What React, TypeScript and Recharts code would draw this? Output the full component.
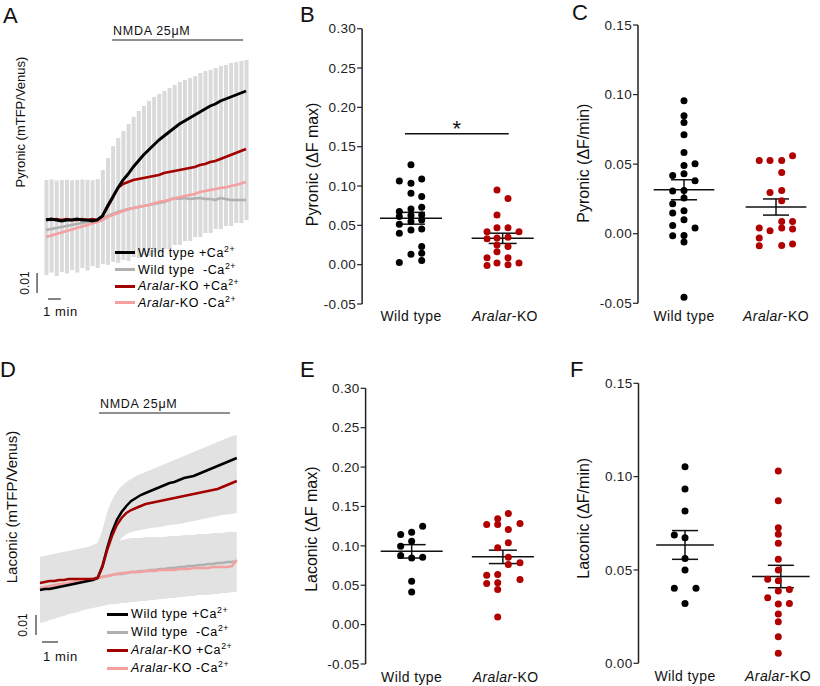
import React from 'react';
import {
  ComposedChart, ScatterChart, Scatter, Line, Bar, Area, XAxis, YAxis,
  ReferenceLine, ErrorBar, Legend,
} from 'recharts';

const FONT = '"Liberation Sans", Arial, Helvetica, sans-serif';
const KO_RED = '#b00000';
const C_WT_CA = '#000000';
const C_WT_NOCA = '#b0b0b0';
const C_KO_CA = '#a30000';
const C_KO_NOCA = '#f4a0a0';

// ---------------- Panel A (Pyronic traces) ----------------
const timeA = [0, 0.4, 0.8, 1.2, 1.6, 2, 2.4, 2.8, 3.2, 3.6, 4, 4.4, 4.8, 5.2, 5.6, 6, 6.4, 6.8, 7.2, 7.6, 8, 8.4, 8.8, 9.2, 9.6, 10, 10.4, 10.8, 11.2, 11.6, 12, 12.4, 12.8, 13.2, 13.6, 14, 14.4, 14.8, 15.2, 15.6];
const aWtCa = [0, 0.0005, 0, -0.0005, 0, 0, 0.0005, 0, 0, -0.0005, 0, 0.002, 0.007, 0.0115, 0.016, 0.020, 0.023, 0.0265, 0.0295, 0.0325, 0.035, 0.0375, 0.040, 0.042, 0.044, 0.046, 0.048, 0.0495, 0.051, 0.0525, 0.054, 0.0555, 0.057, 0.058, 0.0595, 0.0605, 0.0615, 0.0625, 0.0635, 0.0645];
const aKoCa = [0.0005, 0, 0.0005, 0, 0.0005, 0, 0, 0.0005, 0, 0.0005, 0, 0.002, 0.0065, 0.011, 0.016, 0.018, 0.019, 0.020, 0.0205, 0.021, 0.0215, 0.022, 0.0225, 0.0235, 0.024, 0.0245, 0.025, 0.0255, 0.026, 0.0265, 0.0275, 0.028, 0.029, 0.0295, 0.0305, 0.0315, 0.0325, 0.0335, 0.0345, 0.0355];
const aWtNoCa = [-0.005, -0.0045, -0.004, -0.0035, -0.003, -0.0025, -0.002, -0.0015, -0.001, -0.0005, 0, 0.001, 0.002, 0.003, 0.004, 0.0048, 0.0055, 0.006, 0.0065, 0.007, 0.0075, 0.008, 0.0085, 0.009, 0.010, 0.011, 0.0105, 0.011, 0.0105, 0.0108, 0.011, 0.0105, 0.0105, 0.010, 0.011, 0.0105, 0.010, 0.010, 0.010, 0.010];
const aKoNoCa = [-0.0085, -0.0078, -0.007, -0.0063, -0.0055, -0.0048, -0.004, -0.0033, -0.0025, -0.0018, -0.001, 0, 0.0015, 0.0025, 0.0035, 0.0045, 0.0053, 0.006, 0.0065, 0.007, 0.0075, 0.0083, 0.009, 0.0095, 0.010, 0.0108, 0.0113, 0.012, 0.0125, 0.013, 0.014, 0.0145, 0.015, 0.0155, 0.016, 0.0163, 0.017, 0.0175, 0.0183, 0.019];
const aSemHigh = [0.020, 0.0202, 0.0198, 0.020, 0.0201, 0.0199, 0.020, 0.0202, 0.020, 0.0199, 0.0205, 0.025, 0.031, 0.037, 0.041, 0.0445, 0.048, 0.0515, 0.0545, 0.057, 0.0595, 0.0615, 0.063, 0.0645, 0.066, 0.0675, 0.069, 0.070, 0.071, 0.072, 0.0735, 0.0745, 0.075, 0.076, 0.077, 0.0775, 0.0785, 0.079, 0.0795, 0.080];
const aSemLow = [-0.0275, -0.0262, -0.028, -0.026, -0.0268, -0.025, -0.0262, -0.024, -0.0252, -0.023, -0.024, -0.022, -0.0225, -0.021, -0.0215, -0.020, -0.0205, -0.0185, -0.019, -0.0175, -0.018, -0.016, -0.0165, -0.0145, -0.0145, -0.0125, -0.0125, -0.0105, -0.0105, -0.0085, -0.0085, -0.0065, -0.0065, -0.0045, -0.0045, -0.003, -0.003, -0.0015, -0.0015, 0];

// ---------------- Panel D (Laconic traces) ----------------
const timeD = [0, 0.3, 0.6, 0.9, 1.2, 1.5, 1.8, 2.1, 2.4, 2.7, 3, 3.3, 3.6, 3.9, 4.2, 4.5, 4.8, 5.1, 5.4, 5.7, 6, 6.3, 6.6, 6.9, 7.2, 7.5, 7.8, 8.1, 8.4, 8.7, 9, 9.3, 9.6, 9.9, 10.2, 10.5, 10.8, 11.1, 11.4, 11.7, 12, 12.3];
const dWtCa = [0, 0.0005, 0.0005, 0.001, 0.0015, 0.002, 0.0025, 0.003, 0.0035, 0.004, 0.0045, 0.005, 0.006, 0.012, 0.021, 0.029, 0.035, 0.039, 0.042, 0.0445, 0.046, 0.0475, 0.0485, 0.0495, 0.0505, 0.0515, 0.0525, 0.0535, 0.054, 0.055, 0.056, 0.0565, 0.057, 0.058, 0.059, 0.060, 0.061, 0.062, 0.063, 0.064, 0.065, 0.066];
const dKoCa = [0.0035, 0.004, 0.0045, 0.0045, 0.005, 0.005, 0.0055, 0.0055, 0.0055, 0.0055, 0.0055, 0.0055, 0.006, 0.0115, 0.020, 0.027, 0.0325, 0.036, 0.0385, 0.040, 0.041, 0.042, 0.043, 0.0435, 0.044, 0.0445, 0.045, 0.0455, 0.046, 0.0465, 0.047, 0.0475, 0.048, 0.0485, 0.049, 0.0495, 0.050, 0.0505, 0.0515, 0.0525, 0.0535, 0.0545];
const dWtNoCa = [0, 0.0005, 0.001, 0.0015, 0.002, 0.0025, 0.003, 0.0035, 0.004, 0.0045, 0.005, 0.0055, 0.0065, 0.0065, 0.007, 0.0075, 0.008, 0.008, 0.0085, 0.009, 0.009, 0.0095, 0.0095, 0.010, 0.010, 0.0105, 0.0105, 0.011, 0.011, 0.0115, 0.0115, 0.012, 0.012, 0.0125, 0.0125, 0.013, 0.013, 0.0135, 0.0135, 0.014, 0.014, 0.0145];
const dKoNoCa = [0.001, 0.0015, 0.002, 0.0025, 0.003, 0.003, 0.0035, 0.004, 0.0045, 0.005, 0.005, 0.0055, 0.006, 0.0065, 0.007, 0.0075, 0.008, 0.0085, 0.0085, 0.009, 0.009, 0.009, 0.0095, 0.0095, 0.0095, 0.010, 0.010, 0.010, 0.010, 0.0105, 0.0105, 0.0105, 0.011, 0.011, 0.011, 0.011, 0.0115, 0.0115, 0.0115, 0.0115, 0.012, 0.015];
const dCaHigh = [0.0165, 0.017, 0.0175, 0.018, 0.0185, 0.019, 0.0195, 0.020, 0.0205, 0.021, 0.0215, 0.0225, 0.0235, 0.030, 0.039, 0.045, 0.049, 0.052, 0.054, 0.0555, 0.057, 0.058, 0.059, 0.060, 0.061, 0.062, 0.063, 0.064, 0.065, 0.066, 0.067, 0.068, 0.069, 0.070, 0.071, 0.072, 0.073, 0.074, 0.075, 0.076, 0.077, 0.0775];
const dCaLow = [0, 0.0005, 0.0005, 0.001, 0.0015, 0.002, 0.0025, 0.003, 0.0035, 0.004, 0.0045, 0.005, 0.006, 0.006, 0.010, 0.0175, 0.0225, 0.026, 0.028, 0.029, 0.0295, 0.030, 0.0305, 0.031, 0.0313, 0.0315, 0.032, 0.0325, 0.0328, 0.033, 0.0335, 0.034, 0.0345, 0.035, 0.0355, 0.036, 0.0365, 0.037, 0.0375, 0.0378, 0.038, 0.0385];
const dNoCaHigh = [0.0165, 0.017, 0.0175, 0.018, 0.0185, 0.019, 0.0195, 0.020, 0.0205, 0.021, 0.0215, 0.022, 0.0225, 0.023, 0.0235, 0.024, 0.0245, 0.025, 0.0255, 0.026, 0.026, 0.026, 0.0265, 0.0265, 0.0265, 0.0265, 0.0265, 0.027, 0.027, 0.027, 0.0275, 0.0275, 0.0275, 0.028, 0.028, 0.028, 0.0285, 0.0285, 0.0285, 0.029, 0.029, 0.029];
const dNoCaLow = [-0.0165, -0.016, -0.015, -0.0145, -0.0135, -0.013, -0.012, -0.0115, -0.011, -0.010, -0.0095, -0.009, -0.0085, -0.008, -0.0075, -0.007, -0.007, -0.0065, -0.0065, -0.006, -0.006, -0.0055, -0.0055, -0.005, -0.005, -0.0045, -0.0045, -0.004, -0.004, -0.0035, -0.0035, -0.003, -0.003, -0.0025, -0.0025, -0.0025, -0.002, -0.002, -0.0015, -0.0015, -0.001, -0.001];

// annotation values (data units)
const nmdaA = { start: 5.15, end: 15.37, level: 0.09 };
const nmdaD = { start: 3.69, end: 11.875, level: 0.0885 };
const scaleA = { x: -0.7, y0: -0.0265, yLen: 0.01, barY: -0.0395, x0: 0.15, xLen: 1 };
const scaleD = { x: -0.25, y0: -0.0125, yLen: 0.01, barY: -0.026, x0: 0.125, xLen: 1 };

// ---------------- Scatter panels ----------------
const groupNames = ['Wild type', 'Aralar-KO'];

const bWT = [
  { x: 1.0, y: 0.127 }, { x: 0.876, y: 0.1065 }, { x: 1.0, y: 0.1035 }, { x: 1.114, y: 0.109 },
  { x: 1.0, y: 0.0908 }, { x: 1.114, y: 0.0866 }, { x: 0.876, y: 0.0675 }, { x: 1.0, y: 0.0709 },
  { x: 1.114, y: 0.073 }, { x: 0.876, y: 0.0611 }, { x: 1.0, y: 0.0624 }, { x: 1.114, y: 0.0633 },
  { x: 0.876, y: 0.0515 }, { x: 1.0, y: 0.0548 }, { x: 1.114, y: 0.0569 }, { x: 0.876, y: 0.040 },
  { x: 1.0, y: 0.0442 }, { x: 1.114, y: 0.0455 }, { x: 1.114, y: 0.023 }, { x: 1.114, y: 0.0146 },
  { x: 1.0, y: 0.0133 }, { x: 1.114, y: 0.0052 }, { x: 0.876, y: 0.0027 },
];
const bKO = [
  { x: 1.915, y: 0.095 }, { x: 2.032, y: 0.084 }, { x: 1.915, y: 0.063 }, { x: 1.809, y: 0.042 },
  { x: 1.915, y: 0.047 }, { x: 2.032, y: 0.047 }, { x: 2.149, y: 0.042 }, { x: 1.809, y: 0.033 },
  { x: 1.915, y: 0.034 }, { x: 2.032, y: 0.035 }, { x: 1.915, y: 0.025 }, { x: 2.032, y: 0.023 },
  { x: 1.915, y: 0.0165 }, { x: 1.809, y: 0.0087 }, { x: 2.032, y: 0.0087 }, { x: 1.809, y: -0.001 },
  { x: 1.915, y: 0.002 }, { x: 2.032, y: 0.0 }, { x: 2.149, y: 0.002 },
];
const bMeans = [0.059, 0.0335];
const bSems = [0.0075, 0.0065];

const cWT = [
  { x: 1.0, y: 0.0955 }, { x: 1.0, y: 0.0848 }, { x: 1.0, y: 0.080 }, { x: 1.0, y: 0.0711 },
  { x: 1.0, y: 0.0584 }, { x: 1.12, y: 0.0503 }, { x: 1.0, y: 0.049 }, { x: 0.877, y: 0.0419 },
  { x: 1.0, y: 0.0431 }, { x: 1.12, y: 0.038 }, { x: 0.877, y: 0.0307 }, { x: 1.0, y: 0.0311 },
  { x: 1.0, y: 0.0256 }, { x: 0.877, y: 0.0216 }, { x: 0.877, y: 0.0149 }, { x: 1.0, y: 0.0165 },
  { x: 1.0, y: 0.0101 }, { x: 0.877, y: 0.006 }, { x: 1.12, y: 0.0041 }, { x: 0.877, y: -0.0014 },
  { x: 1.0, y: -0.0012 }, { x: 1.0, y: -0.006 }, { x: 1.0, y: -0.0457 },
];
const cKO = [
  { x: 1.818, y: 0.0527 }, { x: 1.935, y: 0.0527 }, { x: 2.062, y: 0.0527 }, { x: 2.18, y: 0.056 },
  { x: 2.062, y: 0.044 }, { x: 1.935, y: 0.0297 }, { x: 2.062, y: 0.0311 }, { x: 2.062, y: 0.0237 },
  { x: 1.818, y: 0.0041 }, { x: 1.935, y: 0.0022 }, { x: 2.062, y: 0.0041 }, { x: 2.18, y: 0.0088 },
  { x: 2.18, y: 0.0034 }, { x: 2.062, y: 0.0088 }, { x: 1.818, y: -0.0031 }, { x: 1.818, y: -0.0086 },
  { x: 2.062, y: -0.0084 }, { x: 2.18, y: -0.0074 },
];
const cMeans = [0.0316, 0.0192];
const cSems = [0.0072, 0.0058];

const eWT = [
  { x: 1.117, y: 0.1249 }, { x: 0.883, y: 0.1144 }, { x: 1.0, y: 0.1173 }, { x: 1.0, y: 0.1059 },
  { x: 0.883, y: 0.0995 }, { x: 0.883, y: 0.0877 }, { x: 1.0, y: 0.0847 }, { x: 1.117, y: 0.0856 },
  { x: 1.0, y: 0.055 }, { x: 1.0, y: 0.0415 },
];
const eKO = [
  { x: 2.028, y: 0.141 }, { x: 1.915, y: 0.1343 }, { x: 1.798, y: 0.127 }, { x: 1.915, y: 0.127 },
  { x: 2.152, y: 0.1283 }, { x: 2.028, y: 0.1207 }, { x: 2.028, y: 0.1038 }, { x: 1.915, y: 0.0975 },
  { x: 2.028, y: 0.0856 }, { x: 2.152, y: 0.0784 }, { x: 2.028, y: 0.0762 }, { x: 1.798, y: 0.0626 },
  { x: 1.915, y: 0.0635 }, { x: 1.798, y: 0.0521 }, { x: 1.915, y: 0.053 }, { x: 2.152, y: 0.0572 },
  { x: 1.915, y: 0.0445 }, { x: 1.915, y: 0.0098 },
];
const eMeans = [0.093, 0.086];
const eSems = [0.0085, 0.0085];

const fWT = [
  { x: 1.0, y: 0.1053 }, { x: 1.0, y: 0.0934 }, { x: 1.0, y: 0.0816 }, { x: 0.885, y: 0.0687 },
  { x: 1.0, y: 0.0673 }, { x: 1.0, y: 0.0562 }, { x: 1.0, y: 0.050 }, { x: 0.885, y: 0.0402 },
  { x: 1.118, y: 0.0402 }, { x: 1.0, y: 0.0321 },
];
const fKO = [
  { x: 2.003, y: 0.103 }, { x: 2.003, y: 0.0871 }, { x: 2.003, y: 0.0726 }, { x: 2.003, y: 0.0691 },
  { x: 2.003, y: 0.0643 }, { x: 2.003, y: 0.0557 }, { x: 2.003, y: 0.050 }, { x: 1.889, y: 0.045 },
  { x: 2.003, y: 0.0442 }, { x: 2.122, y: 0.0396 }, { x: 2.003, y: 0.0387 }, { x: 1.889, y: 0.0351 },
  { x: 2.003, y: 0.0318 }, { x: 2.122, y: 0.0321 }, { x: 2.003, y: 0.0264 }, { x: 2.003, y: 0.0223 },
  { x: 2.003, y: 0.0142 }, { x: 2.003, y: 0.0054 },
];
const fMeans = [0.0634, 0.0465];
const fSems = [0.0077, 0.006];

const ticksMax = [-0.05, 0, 0.05, 0.1, 0.15, 0.2, 0.25, 0.3];
const ticksRateC = [-0.05, 0, 0.05, 0.1, 0.15];
const ticksRateF = [0, 0.05, 0.1, 0.15];

const sig = { x0: 0.936, x1: 2.04, y: 0.1665, text: '*' };

const legendItems = [
  { key: 'wtCa', genotype: 'Wild type', ion: '\u00a0+Ca', color: C_WT_CA },
  { key: 'wtNoCa', genotype: 'Wild type', ion: '\u00a0\u00a0-Ca', color: C_WT_NOCA },
  { key: 'koCa', genotype: 'Aralar-KO', ion: '\u00a0+Ca', color: C_KO_CA },
  { key: 'koNoCa', genotype: 'Aralar-KO', ion: '\u00a0-Ca', color: C_KO_NOCA },
];

const rowsA = timeA.map((t, i) => ({
  t, wtCa: aWtCa[i], koCa: aKoCa[i], wtNoCa: aWtNoCa[i], koNoCa: aKoNoCa[i], sem: [aSemLow[i], aSemHigh[i]],
}));
const rowsD = timeD.map((t, i) => ({
  t, wtCa: dWtCa[i], koCa: dKoCa[i], wtNoCa: dWtNoCa[i], koNoCa: dKoNoCa[i],
  bandCa: [dCaLow[i], dCaHigh[i]], bandNoCa: [dNoCaLow[i], dNoCaHigh[i]],
}));

// ---------------- helpers ----------------
const GenotypeText = ({ name }: { name: string }) => {
  if (name.indexOf('-') > 0) {
    const [a, b] = name.split('-');
    return <><i>{a}</i>-{b}</>;
  }
  return <>{name}</>;
};

const makeLegend = (rowH: number, lineW: number, fontSize: number) => () => (
  <div style={{ fontFamily: FONT, fontSize, whiteSpace: 'nowrap', letterSpacing: 0.6, color: '#000', width: 160 }}>
    {legendItems.map((it) => (
      <div key={it.key} style={{ height: rowH, display: 'flex', alignItems: 'center' }}>
        <span style={{ display: 'inline-block', width: lineW, height: 3, background: it.color, marginRight: 3 }} />
        <span>
          <GenotypeText name={it.genotype} />{it.ion}
          <sup style={{ fontSize: fontSize * 0.7, lineHeight: 0 }}>2+</sup>
        </span>
      </div>
    ))}
  </div>
);

const YTick = (props: any) => {
  const { x, y, payload } = props;
  return (
    <text x={x} y={y} dy="0.35em" textAnchor="end" fontSize={13.5} letterSpacing={0.3} fill="#222" fontFamily={FONT}>
      {Number(payload.value).toFixed(2)}
    </text>
  );
};

const XTick = (props: any) => {
  const { x, y, payload } = props;
  const name = groupNames[Math.round(payload.value) - 1] || '';
  let content: any = name;
  if (name.indexOf('-') > 0) {
    const [a, b] = name.split('-');
    content = <><tspan fontStyle="italic">{a}</tspan><tspan>-{b}</tspan></>;
  }
  return (
    <text x={x} y={y} dy="0.71em" textAnchor="middle" fontSize={14} letterSpacing={0.4} fill="#111" fontFamily={FONT}>
      {content}
    </text>
  );
};

const makeYLabel = (text: string, dx: number, dy: number) => (props: any) => {
  const vb = props.viewBox || { x: 0, y: 0, width: 0, height: 0 };
  const cx = vb.x + dx;
  const cy = vb.y + vb.height / 2 + dy;
  return (
    <text transform={`translate(${cx},${cy}) rotate(-90)`} textAnchor="middle" dominantBaseline="central"
      fontSize={16} fill="#111" fontFamily={FONT}>
      {text}
    </text>
  );
};

const dotShape = (color: string) => (props: any) => (
  <circle cx={props.cx} cy={props.cy} r={3.5} fill={color} />
);
const emptyShape = () => <g />;

type PanelProps = {
  left: number; top: number; width: number; height: number;
  margin: any; xDomain: number[]; yDomain: number[]; yTicks: number[];
  yLabel: string; labelDx: number; labelDy: number; yAxisWidth: number;
  xTickMargin: number; xAxisHeight: number;
  wt: any[]; ko: any[]; means: number[]; sems: number[];
  centers: number[]; halfWidth: number; capWidth: number;
  children?: any;
};

function ScatterPanel(p: PanelProps) {
  const stats = p.means.map((m, i) => ({ x: p.centers[i], y: m, e: p.sems[i] }));
  return (
    <div style={{ position: 'absolute', left: p.left, top: p.top }}>
      <ScatterChart width={p.width} height={p.height} margin={p.margin}>
        <XAxis type="number" dataKey="x" domain={p.xDomain} ticks={[1, 2]} interval={0} allowDataOverflow
          axisLine={false} tickLine={false} tickSize={0} tickMargin={p.xTickMargin} height={p.xAxisHeight} tick={<XTick />} />
        <YAxis type="number" dataKey="y" domain={p.yDomain} ticks={p.yTicks} interval={0} allowDataOverflow
          width={p.yAxisWidth} axisLine={{ stroke: '#222', strokeWidth: 1.5 }} tickLine={{ stroke: '#222', strokeWidth: 1.2 }}
          tickSize={5} tickMargin={1} tick={<YTick />} label={makeYLabel(p.yLabel, p.labelDx, p.labelDy)} />
        <Scatter data={p.wt} fill="#000" shape={dotShape('#000')} isAnimationActive={false} />
        <Scatter data={p.ko} fill={KO_RED} shape={dotShape(KO_RED)} isAnimationActive={false} />
        {stats.map((s, i) => (
          <ReferenceLine key={'mean' + i} segment={[{ x: s.x - p.halfWidth, y: s.y }, { x: s.x + p.halfWidth, y: s.y }]}
            stroke="#111" strokeWidth={1.5} ifOverflow="visible" />
        ))}
        <Scatter data={stats} shape={emptyShape} isAnimationActive={false}>
          <ErrorBar dataKey="e" direction="y" width={p.capWidth} stroke="#111" strokeWidth={1.5} />
        </Scatter>
        {p.children}
      </ScatterChart>
    </div>
  );
}

const nmdaLabel = (props: any) => {
  const vb = props.viewBox || { x: 0, y: 0 };
  return (
    <text x={vb.x + 1} y={vb.y - 5} fontSize={12.5} letterSpacing={0.7} fill="#111" fontFamily={FONT}>NMDA 25μM</text>
  );
};
const makeVScaleLabel = (dx: number) => (props: any) => {
  const vb = props.viewBox || { x: 0, y: 0, height: 0 };
  return (
    <text transform={`translate(${vb.x + dx},${vb.y + (vb.height || 0) / 2}) rotate(-90)`} textAnchor="middle"
      dominantBaseline="central" fontSize={12} fill="#111" fontFamily={FONT}>0.01</text>
  );
};
const makeHScaleLabel = (dx: number, dy: number) => (props: any) => {
  const vb = props.viewBox || { x: 0, y: 0 };
  return (
    <text x={vb.x + dx} y={vb.y + dy} fontSize={13} letterSpacing={0.6} fill="#111" fontFamily={FONT}>1 min</text>
  );
};
const sigLabel = (props: any) => {
  const vb = props.viewBox || { x: 0, y: 0, width: 0 };
  return (
    <text x={vb.x + (vb.width || 0) / 2} y={vb.y + 2} textAnchor="middle" fontSize={22} fill="#111" fontFamily={FONT}>{sig.text}</text>
  );
};

export default function App() {
  return (
    <div style={{ position: 'absolute', left: 0, top: 0, width: 820, height: 686, background: '#fff', fontFamily: FONT, overflow: 'hidden' }}>
      {/* Panel A */}
      <div style={{ position: 'absolute', left: 0, top: 0 }}>
        <ComposedChart width={260} height={330} data={rowsA} margin={{ top: 35, right: 8.8, bottom: 10, left: 30 }}>
          <XAxis type="number" dataKey="t" domain={[-1.25, 16]} allowDataOverflow hide />
          <YAxis type="number" domain={[-0.05, 0.0925]} allowDataOverflow hide />
          <Bar dataKey="sem" fill="#dadada" barSize={4} isAnimationActive={false} />
          <Line dataKey="wtNoCa" stroke={C_WT_NOCA} strokeWidth={2.6} dot={false} isAnimationActive={false} />
          <Line dataKey="koNoCa" stroke={C_KO_NOCA} strokeWidth={2.6} dot={false} isAnimationActive={false} />
          <Line dataKey="koCa" stroke={C_KO_CA} strokeWidth={2.6} dot={false} isAnimationActive={false} />
          <Line dataKey="wtCa" stroke={C_WT_CA} strokeWidth={2.9} dot={false} isAnimationActive={false} />
          <ReferenceLine segment={[{ x: nmdaA.start, y: nmdaA.level }, { x: nmdaA.end, y: nmdaA.level }]} stroke="#222" strokeWidth={1.2} ifOverflow="visible" label={nmdaLabel} />
          <ReferenceLine segment={[{ x: scaleA.x, y: scaleA.y0 }, { x: scaleA.x, y: scaleA.y0 - scaleA.yLen }]} stroke="#333" strokeWidth={1.2} ifOverflow="visible" label={makeVScaleLabel(-12)} />
          <ReferenceLine segment={[{ x: scaleA.x0, y: scaleA.barY }, { x: scaleA.x0 + scaleA.xLen, y: scaleA.barY }]} stroke="#333" strokeWidth={1.2} ifOverflow="visible" label={makeHScaleLabel(-5, 17)} />
          <Legend content={makeLegend(16.7, 20, 12.5)} wrapperStyle={{ position: 'absolute', left: 115, top: 244.5, width: 0, height: 0, overflow: 'visible' }} />
        </ComposedChart>
      </div>

      {/* Panel D */}
      <div style={{ position: 'absolute', left: 0, top: 330 }}>
        <ComposedChart width={260} height={356} data={rowsD} margin={{ top: 70, right: 10, bottom: 16, left: 30 }}>
          <XAxis type="number" dataKey="t" domain={[-0.625, 13.125]} allowDataOverflow hide />
          <YAxis type="number" domain={[-0.04, 0.095]} allowDataOverflow hide />
          <Area dataKey="bandNoCa" type="linear" fill="#e2e2e2" fillOpacity={1} stroke="none" isAnimationActive={false} />
          <Area dataKey="bandCa" type="linear" fill="#e2e2e2" fillOpacity={1} stroke="none" isAnimationActive={false} />
          <Line dataKey="wtNoCa" stroke={C_WT_NOCA} strokeWidth={2.5} dot={false} isAnimationActive={false} />
          <Line dataKey="koNoCa" stroke={C_KO_NOCA} strokeWidth={2.5} dot={false} isAnimationActive={false} />
          <Line dataKey="wtCa" stroke={C_WT_CA} strokeWidth={2.5} dot={false} isAnimationActive={false} />
          <Line dataKey="koCa" stroke={C_KO_CA} strokeWidth={2.5} dot={false} isAnimationActive={false} />
          <ReferenceLine segment={[{ x: nmdaD.start, y: nmdaD.level }, { x: nmdaD.end, y: nmdaD.level }]} stroke="#222" strokeWidth={1.2} ifOverflow="visible" label={nmdaLabel} />
          <ReferenceLine segment={[{ x: scaleD.x, y: scaleD.y0 }, { x: scaleD.x, y: scaleD.y0 - scaleD.yLen }]} stroke="#333" strokeWidth={1.2} ifOverflow="visible" label={makeVScaleLabel(-13)} />
          <ReferenceLine segment={[{ x: scaleD.x0, y: scaleD.barY }, { x: scaleD.x0 + scaleD.xLen, y: scaleD.barY }]} stroke="#333" strokeWidth={1.2} ifOverflow="visible" label={makeHScaleLabel(1, 19)} />
          <Legend content={makeLegend(18, 21, 12.5)} wrapperStyle={{ position: 'absolute', left: 107, top: 275, width: 0, height: 0, overflow: 'visible' }} />
        </ComposedChart>
      </div>

      {/* Panel B */}
      <ScatterPanel left={260} top={0} width={290} height={335}
        margin={{ top: 28.7, right: 7.4, bottom: 6, left: 42.1 }}
        xDomain={[0.48, 2.4]} yDomain={[-0.05, 0.3]} yTicks={ticksMax}
        yLabel="Pyronic (ΔF max)" labelDx={10} labelDy={-2} yAxisWidth={60}
        xTickMargin={7} xAxisHeight={25}
        wt={bWT} ko={bKO} means={bMeans} sems={bSems} centers={[1, 1.975]} halfWidth={0.33} capWidth={14}>
        <ReferenceLine segment={[{ x: sig.x0, y: sig.y }, { x: sig.x1, y: sig.y }]} stroke="#111" strokeWidth={1.5} ifOverflow="visible" label={sigLabel} />
      </ScatterPanel>

      {/* Panel C */}
      <ScatterPanel left={540} top={0} width={280} height={335}
        margin={{ top: 25, right: 2.6, bottom: 6.7, left: 35 }}
        xDomain={[0.5, 2.45]} yDomain={[-0.05, 0.15]} yTicks={ticksRateC}
        yLabel="Pyronic (ΔF/min)" labelDx={8} labelDy={-1} yAxisWidth={63}
        xTickMargin={8} xAxisHeight={25}
        wt={cWT} ko={cKO} means={cMeans} sems={cSems} centers={[1, 2.0]} halfWidth={0.33} capWidth={13} />

      {/* Panel E */}
      <ScatterPanel left={260} top={330} width={290} height={356}
        margin={{ top: 58.3, right: 6.7, bottom: 2, left: 45.6 }}
        xDomain={[0.51, 2.4]} yDomain={[-0.05, 0.3]} yTicks={ticksMax}
        yLabel="Laconic (ΔF max)" labelDx={6} labelDy={3} yAxisWidth={60}
        xTickMargin={8} xAxisHeight={20}
        wt={eWT} ko={eKO} means={eMeans} sems={eSems} centers={[1, 1.97]} halfWidth={0.33} capWidth={14} />

      {/* Panel F */}
      <ScatterPanel left={540} top={330} width={280} height={356}
        margin={{ top: 53.3, right: 2.9, bottom: 2.7, left: 35.5 }}
        xDomain={[0.5, 2.42]} yDomain={[0, 0.15]} yTicks={ticksRateF}
        yLabel="Laconic (ΔF/min)" labelDx={8} labelDy={-5} yAxisWidth={63}
        xTickMargin={8} xAxisHeight={20}
        wt={fWT} ko={fKO} means={fMeans} sems={fSems} centers={[1, 2.03]} halfWidth={0.31} capWidth={13} />

      {/* panel letters & trace axis titles */}
      <svg width={820} height={686} style={{ position: 'absolute', left: 0, top: 0, pointerEvents: 'none' }}>
        <g fontFamily={FONT} fill="#111" fontSize={22}>
          <text x={3} y={23}>A</text>
          <text x={300} y={22}>B</text>
          <text x={572} y={20}>C</text>
          <text x={0} y={377}>D</text>
          <text x={300} y={377}>E</text>
          <text x={570} y={377}>F</text>
        </g>
        <text transform="translate(20,122) rotate(-90)" textAnchor="middle" dominantBaseline="central" fontSize={13} fontFamily={FONT} fill="#111">Pyronic (mTFP/Venus)</text>
        <text transform="translate(11,507) rotate(-90)" textAnchor="middle" dominantBaseline="central" fontSize={15} fontFamily={FONT} fill="#111">Laconic (mTFP/Venus)</text>
      </svg>
    </div>
  );
}
